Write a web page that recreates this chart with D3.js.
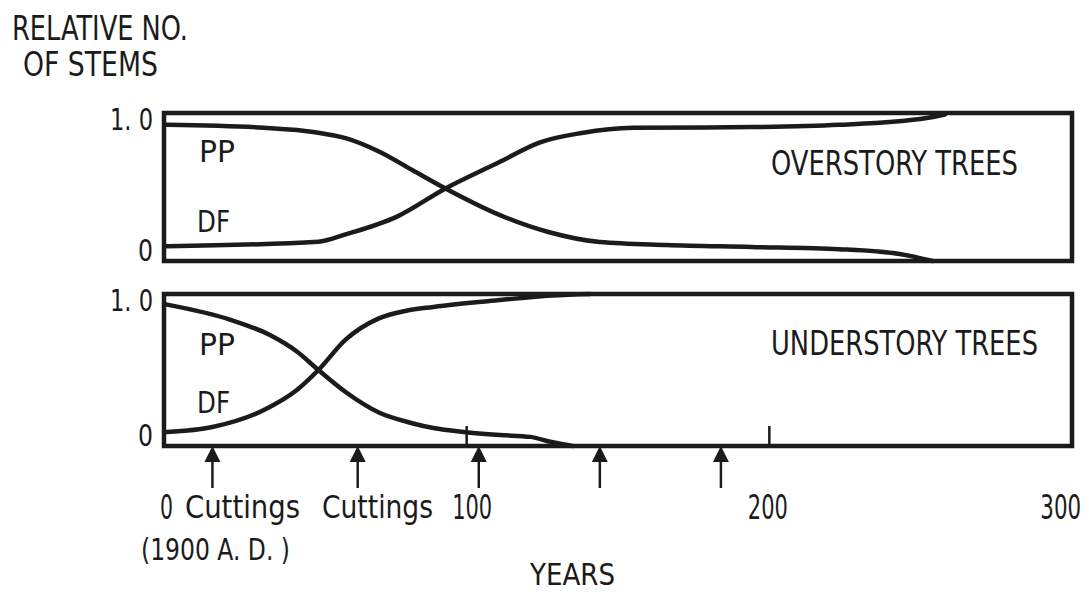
<!DOCTYPE html>
<html>
<head>
<meta charset="utf-8">
<script src="https://cdn.jsdelivr.net/npm/d3@7"></script>
<style>
  body { margin: 0; background: #fff; }
  svg text { font-family: "Liberation Sans Narrow", "DejaVu Sans Condensed", "Arial Narrow", sans-serif; fill: #1b1b1b; }
</style>
</head>
<body>
<div id="chart"></div>
<script>
// x axis (years) and cutting dates
var year_ticks = [0, 100, 200, 300];
var inner_ticks = [100, 200];
var cutting_years = [16, 64, 104, 144, 184];

// overstory trees, relative no. of stems
var over_pp_years = [1, 33, 50, 60, 71, 82, 93, 111, 127, 144, 166, 194, 223, 243, 254];
var over_pp = [0.92, 0.90, 0.87, 0.83, 0.74, 0.615, 0.49, 0.31, 0.196, 0.128, 0.108, 0.095, 0.08, 0.047, 0.0];
var over_df_years = [1, 51, 60, 77, 93, 111, 124, 138, 155, 194, 223, 252, 258];
var over_df = [0.10, 0.13, 0.18, 0.30, 0.49, 0.67, 0.80, 0.865, 0.90, 0.905, 0.92, 0.966, 0.99];

// understory trees
var under_pp_years = [1, 22, 35, 44, 51, 60, 71, 82, 89, 99, 111, 121, 128, 135];
var under_pp = [0.93, 0.83, 0.73, 0.62, 0.50, 0.355, 0.22, 0.15, 0.118, 0.092, 0.072, 0.06, 0.026, 0.0];
var under_df_years = [1, 16, 33, 44, 51, 60, 71, 80, 89, 111, 128, 141];
var under_df = [0.092, 0.125, 0.237, 0.37, 0.50, 0.70, 0.84, 0.89, 0.915, 0.96, 0.99, 1.0];

var ink = "#1b1b1b";
var svg_width = 1089;
var svg_height = 592;

var svg = d3.select("#chart")
  .append("svg")
  .attr("width", svg_width)
  .attr("height", svg_height);

var x = d3.scaleLinear().domain([0, 300]).range([164, 1072]);
var y_over = d3.scaleLinear().domain([0, 1]).range([261, 113]);
var y_under = d3.scaleLinear().domain([0, 1]).range([446, 294]);

// text squeezed to the width it takes in the scan
function label(x0, y0, size, width, txt) {
  return svg.append("text")
    .attr("x", x0)
    .attr("y", y0)
    .attr("font-size", size)
    .attr("textLength", width)
    .attr("lengthAdjust", "spacingAndGlyphs")
    .text(txt);
}

function draw_panel(y, pp_years, pp, df_years, df, title, title_y, title_w, pp_y, df_y) {
  var line = d3.line()
    .x(function(d) { return x(d[0]); })
    .y(function(d) { return y(d[1]); })
    .curve(d3.curveMonotoneX);

  svg.append("path")
    .datum(d3.zip(pp_years, pp))
    .attr("d", line)
    .attr("fill", "none")
    .attr("stroke", ink)
    .attr("stroke-width", 4.5)
    .attr("stroke-linecap", "round");

  svg.append("path")
    .datum(d3.zip(df_years, df))
    .attr("d", line)
    .attr("fill", "none")
    .attr("stroke", ink)
    .attr("stroke-width", 4.5)
    .attr("stroke-linecap", "round");

  // frame
  svg.append("rect")
    .attr("x", x(0))
    .attr("y", y(1))
    .attr("width", x(300) - x(0))
    .attr("height", y(0) - y(1))
    .attr("fill", "none")
    .attr("stroke", ink)
    .attr("stroke-width", 4.5);

  var ya = svg.append("g")
    .attr("transform", "translate(" + x(0) + ",0)")
    .call(d3.axisLeft(y).tickValues([0, 1]).tickSize(0).tickPadding(11)
      .tickFormat(function(d) { return d === 1 ? "1. 0" : "0"; }));
  ya.select(".domain").remove();
  ya.attr("font-size", 30).attr("font-family", null);
  ya.selectAll("text")
    .attr("dy", function(d) { return d === 1 ? 16 : -1; })
    .attr("textLength", function(d) { return d === 1 ? 43 : 15; })
    .attr("lengthAdjust", "spacingAndGlyphs");

  label(199, pp_y, 30, 36, "PP");
  label(197, df_y, 30, 33, "DF");
  label(771, title_y, 33, title_w, title);
}

draw_panel(y_over, over_pp_years, over_pp, over_df_years, over_df, "OVERSTORY TREES", 175, 247, 162, 232);
draw_panel(y_under, under_pp_years, under_pp, under_df_years, under_df, "UNDERSTORY TREES", 355, 267, 355, 413);

// y title
label(12, 40, 33, 176, "RELATIVE NO.");
label(23, 76, 33, 135, "OF STEMS");

// small year ticks inside the understory frame
svg.selectAll(".inner-tick")
  .data(inner_ticks)
  .enter()
  .append("line")
  .attr("class", "inner-tick")
  .attr("x1", function(d) { return x(d); })
  .attr("x2", function(d) { return x(d); })
  .attr("y1", y_under(0))
  .attr("y2", y_under(0) - 20)
  .attr("stroke", ink)
  .attr("stroke-width", 2.5);

// cutting arrows
var arrows = svg.selectAll(".cutting")
  .data(cutting_years)
  .enter()
  .append("g")
  .attr("class", "cutting")
  .attr("transform", function(d) { return "translate(" + x(d) + "," + y_under(0) + ")"; });
arrows.append("line")
  .attr("x1", 0).attr("x2", 0)
  .attr("y1", 12).attr("y2", 42)
  .attr("stroke", ink)
  .attr("stroke-width", 2.5);
arrows.append("path")
  .attr("d", "M-8,16L0,0L8,16Z")
  .attr("fill", ink);

// x axis labels
var xa = svg.append("g")
  .attr("transform", "translate(0,519)")
  .call(d3.axisBottom(x).tickValues(year_ticks).tickSize(0).tickPadding(0));
xa.select(".domain").remove();
xa.attr("font-size", 33).attr("font-family", null);
xa.selectAll("text")
  .attr("dy", 0)
  .attr("dx", function(d) { return d === 0 ? 2 : d === 100 ? 5 : -2; })
  .attr("textLength", function(d) { return d === 300 ? null : d === 0 ? 13 : 40; })
  .attr("lengthAdjust", "spacingAndGlyphs");
// last label squeezed by a transform so it stays inside the page
xa.selectAll("text")
  .filter(function(d) { return d === 300; })
  .attr("text-anchor", "end")
  .attr("dx", 12)
  .attr("transform", "scale(0.72,1)");

label(185, 518, 32, 115, "Cuttings");
label(322, 518, 32, 111, "Cuttings");
label(141, 560, 31, 149, "(1900 A. D. )");
label(530, 585, 31, 85, "YEARS");
</script>
</body>
</html>
